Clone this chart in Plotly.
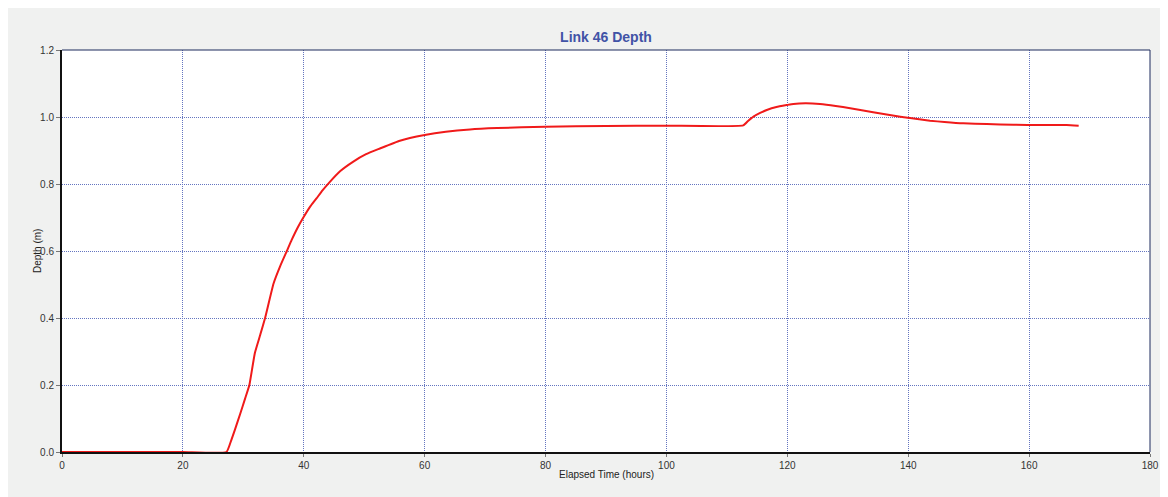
import plotly.graph_objects as go

# Elapsed time (hours) and depth (m)
hours = [0, 10, 20, 27.2, 28.0, 28.6, 29.5, 30.3, 31.0, 31.9, 32.8, 33.6, 35.0, 36.1,
         37.2, 38.0, 39.0, 40.0, 41.0, 42.1, 43.1, 44.1, 46.0, 48.2, 50.3, 52.6, 55.9,
         60.0, 63.5, 67.5, 72.0, 80.0, 90.0, 100.0, 112.7, 113.5, 114.4, 115.5, 116.6,
         118.2, 120.0, 121.0, 123.0, 125.4, 128.0, 130.4, 134.2, 138.7, 140.0, 143.6,
         146.0, 149.1, 153.0, 157.4, 162.0, 166.2, 168.2]
depth = [0, 0, 0, 0, 0.035, 0.066, 0.115, 0.16, 0.2, 0.295, 0.35, 0.4, 0.503, 0.555,
         0.6, 0.633, 0.67, 0.702, 0.731, 0.757, 0.781, 0.802, 0.838, 0.867, 0.889, 0.906,
         0.929, 0.946, 0.956, 0.963, 0.967, 0.971, 0.973, 0.974, 0.975, 0.988, 1.001,
         1.012, 1.021, 1.030, 1.036, 1.039, 1.041, 1.039, 1.033, 1.026, 1.014, 1.001,
         0.998, 0.989, 0.985, 0.981, 0.979, 0.977, 0.976, 0.976, 0.974]

x_ticks = [0, 20, 40, 60, 80, 100, 120, 140, 160, 180]
y_ticks = [0.0, 0.2, 0.4, 0.6, 0.8, 1.0, 1.2]

# page has an 8px body margin; figure sized to fit the 1168x497 window
W, H = 1160, 489
L, R, T, B = 54, 18, 42, 45
PW, PH = W - L - R, H - T - B

def px(xf):
    return (xf - L) / PW

def py(yf):
    return (T + PH - yf) / PH

fig = go.Figure()
fig.add_trace(go.Scatter(x=hours, y=depth, mode="lines",
                         line=dict(color="#f01a1a", width=2, shape="spline", smoothing=0.4),
                         hoverinfo="x+y", showlegend=False))

grid_col = "#6475c0"
font_fam = "Liberation Sans, Arial, sans-serif"

fig.update_layout(
    width=W, height=H,
    margin=dict(l=L, r=R, t=T, b=B, autoexpand=False),
    paper_bgcolor="white",
    plot_bgcolor="white",
    title=dict(text="<b>Link 46 Depth</b>", x=0.5, xref="paper", xanchor="center",
               y=1 - 29 / H, yanchor="middle",
               font=dict(family=font_fam, size=14, color="#4153a6")),
    font=dict(family=font_fam, size=10, color="#333333"),
    xaxis=dict(range=[0, 180], tickvals=x_ticks, ticktext=[str(v) for v in x_ticks],
               automargin=False,
               showgrid=True, gridcolor=grid_col, griddash="1px,1px", gridwidth=1,
               zeroline=False, showline=True, linecolor="#111111", linewidth=2,
               ticks="outside", ticklen=3, tickcolor="#777777",
               tickfont=dict(size=10, color="#333333")),
    yaxis=dict(range=[0, 1.2], tickvals=y_ticks, ticktext=[f"{v:.1f}" for v in y_ticks],
               automargin=False,
               showgrid=True, gridcolor=grid_col, griddash="1px,1px", gridwidth=1,
               zeroline=False, showline=True, linecolor="#111111", linewidth=2,
               ticks="outside", ticklen=4, tickcolor="#777777",
               tickfont=dict(size=10, color="#333333")),
    annotations=[
        dict(text="Elapsed Time (hours)", xref="paper", yref="paper", x=0.5, y=0,
             yshift=-22, xanchor="center", yanchor="middle", showarrow=False,
             font=dict(family=font_fam, size=10, color="#222222")),
        dict(text="Depth (m)", xref="paper", yref="paper", x=0, y=0.5, xshift=-25,
             xanchor="center", yanchor="middle", showarrow=False, textangle=-90,
             font=dict(family=font_fam, size=10, color="#222222")),
    ],
    shapes=[
        # gray background panel
        dict(type="rect", xref="paper", yref="paper", layer="below",
             x0=px(-2), x1=px(1152), y0=py(H + 2), y1=py(-2),
             fillcolor="#f0f1f0", line=dict(width=0)),
        # white plotting area
        dict(type="rect", xref="paper", yref="paper", layer="below",
             x0=0, x1=1, y0=0, y1=1, fillcolor="white", line=dict(width=0)),
        # top and right frame
        dict(type="line", xref="paper", yref="paper", x0=0, x1=1, y0=1, y1=1,
             line=dict(color="#1c2b5c", width=1)),
        dict(type="line", xref="paper", yref="paper", x0=1, x1=1, y0=0, y1=1,
             line=dict(color="#1c2b5c", width=1)),
    ],
)

fig.write_html("out.html")
